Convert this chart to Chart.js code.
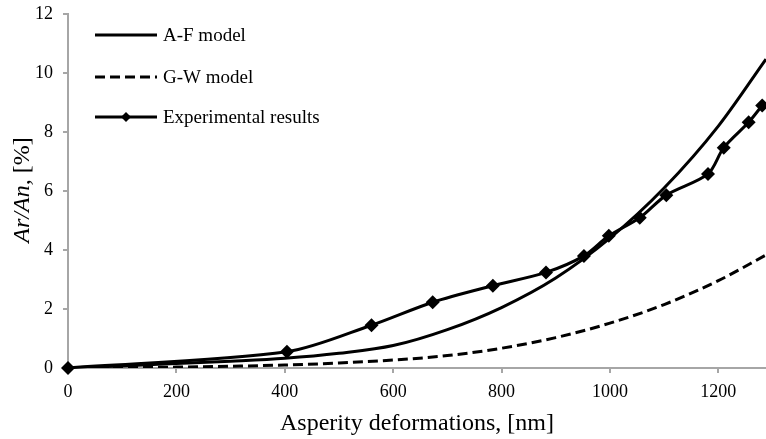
<!DOCTYPE html>
<html>
<head>
<meta charset="utf-8">
<script src="https://cdn.jsdelivr.net/npm/chart.js@4.4.1/dist/chart.umd.min.js"></script>
<style>
  html, body { margin: 0; padding: 0; background: #fff; }
  #wrap { width: 766px; height: 439px; }
</style>
</head>
<body>
<div id="wrap"><canvas id="chart"></canvas></div>
<script>
// model curves, every 100 nm
const modelDepth = [0, 100, 200, 300, 400, 500, 600, 700, 800, 900, 1000, 1100, 1200, 1288];
const afModel = [0, 0.07, 0.15, 0.23, 0.33, 0.5, 0.76, 1.3, 2.05, 3.05, 4.4, 6.1, 8.2, 10.47];
const gwModel = [0, 0.01, 0.03, 0.06, 0.1, 0.17, 0.27, 0.42, 0.67, 1.03, 1.52, 2.15, 2.96, 3.83];

// measured points
const expDepth = [0, 404, 560, 673, 784, 882, 952, 998, 1055, 1104, 1181, 1210, 1256, 1281];
const expArea = [0, 0.55, 1.45, 2.23, 2.79, 3.24, 3.8, 4.48, 5.09, 5.86, 6.58, 7.47, 8.33, 8.9];

const seriesNames = ["A-F model", "G-W model", "Experimental results"];
const xTitle = "Asperity deformations, [nm]";
const yTitleItalic = "Ar/An,";
const yTitleRest = " [%]";

const FONT = "'Liberation Serif', 'Times New Roman', serif";
const axisGray = "#a6a6a6";

function toPoints(xs, ys) {
    return xs.map((x, i) => ({ x: x, y: ys[i] }));
}

// legend drawn inside the plot, top left, one entry per row
const innerLegend = {
    id: "innerLegend",
    afterDraw(chart) {
        const ctx = chart.ctx;
        const rows = [35, 77, 117];
        ctx.save();
        chart.data.datasets.forEach((ds, i) => {
            const y = rows[i];
            ctx.strokeStyle = "#000";
            ctx.lineWidth = 3;
            ctx.setLineDash(ds.borderDash || []);
            ctx.beginPath();
            ctx.moveTo(95, y);
            ctx.lineTo(157, y);
            ctx.stroke();
            ctx.setLineDash([]);
            if (ds.pointRadius > 0) {
                const r = 5;
                ctx.fillStyle = "#000";
                ctx.beginPath();
                ctx.moveTo(126, y - r);
                ctx.lineTo(126 + r, y);
                ctx.lineTo(126, y + r);
                ctx.lineTo(126 - r, y);
                ctx.closePath();
                ctx.fill();
            }
            ctx.fillStyle = "#000";
            ctx.font = "19px " + FONT;
            ctx.textBaseline = "middle";
            ctx.textAlign = "left";
            ctx.fillText(ds.label, 163, y + 1);
        });
        ctx.restore();
    }
};

// y title with italic part, rotated
const yTitle = {
    id: "yTitle",
    afterDraw(chart) {
        const ctx = chart.ctx;
        ctx.save();
        ctx.translate(23, 190);
        ctx.rotate(-Math.PI / 2);
        ctx.fillStyle = "#000";
        ctx.textBaseline = "middle";
        ctx.textAlign = "left";
        ctx.font = "italic 24px " + FONT;
        const w1 = ctx.measureText(yTitleItalic).width;
        ctx.font = "24px " + FONT;
        const w2 = ctx.measureText(yTitleRest).width;
        const start = -(w1 + w2) / 2;
        ctx.font = "italic 24px " + FONT;
        ctx.fillText(yTitleItalic, start, 0);
        ctx.font = "24px " + FONT;
        ctx.fillText(yTitleRest, start + w1, 0);
        ctx.restore();
    }
};

new Chart(document.getElementById("chart"), {
    type: "line",
    data: {
        datasets: [
            {
                label: seriesNames[0],
                data: toPoints(modelDepth, afModel),
                borderColor: "#000",
                borderWidth: 3,
                pointRadius: 0,
                cubicInterpolationMode: "monotone",
                fill: false
            },
            {
                label: seriesNames[1],
                data: toPoints(modelDepth, gwModel),
                borderColor: "#000",
                borderWidth: 3,
                borderDash: [10, 5],
                pointRadius: 0,
                cubicInterpolationMode: "monotone",
                fill: false
            },
            {
                label: seriesNames[2],
                data: toPoints(expDepth, expArea),
                borderColor: "#000",
                backgroundColor: "#000",
                borderWidth: 3,
                pointStyle: "rectRot",
                pointRadius: 7,
                pointBorderWidth: 0,
                tension: 0.3,
                clip: false,
                fill: false
            }
        ]
    },
    options: {
        responsive: true,
        maintainAspectRatio: false,
        animation: false,
        layout: { autoPadding: false, padding: { top: 14, right: 0, left: 0, bottom: 0 } },
        plugins: {
            legend: { display: false },
            tooltip: { enabled: false }
        },
        scales: {
            x: {
                type: "linear",
                min: 0,
                max: 1288,
                afterFit(scale) {
                    scale.height = 71;
                    scale.paddingLeft = 0;
                    scale.paddingRight = 0;
                },
                ticks: {
                    stepSize: 200,
                    includeBounds: false,
                    autoSkip: false,
                    maxRotation: 0,
                    padding: 8,
                    color: "#000",
                    font: { family: FONT, size: 18 },
                    callback: (v) => String(v)
                },
                grid: {
                    drawOnChartArea: false,
                    drawTicks: true,
                    tickLength: 5,
                    color: axisGray,
                    lineWidth: 2
                },
                border: { color: axisGray, width: 2 },
                title: {
                    display: true,
                    text: xTitle,
                    color: "#000",
                    font: { family: FONT, size: 24 },
                    padding: { top: 0, bottom: 1 }
                }
            },
            y: {
                min: 0,
                max: 12,
                afterFit(scale) {
                    scale.width = 68;
                    scale.paddingTop = 0;
                    scale.paddingBottom = 0;
                },
                ticks: {
                    stepSize: 2,
                    padding: 10,
                    color: "#000",
                    font: { family: FONT, size: 18 }
                },
                grid: {
                    drawOnChartArea: false,
                    drawTicks: true,
                    tickLength: 5,
                    color: axisGray,
                    lineWidth: 2
                },
                border: { color: axisGray, width: 2 }
            }
        }
    },
    plugins: [innerLegend, yTitle]
});
</script>
</body>
</html>
